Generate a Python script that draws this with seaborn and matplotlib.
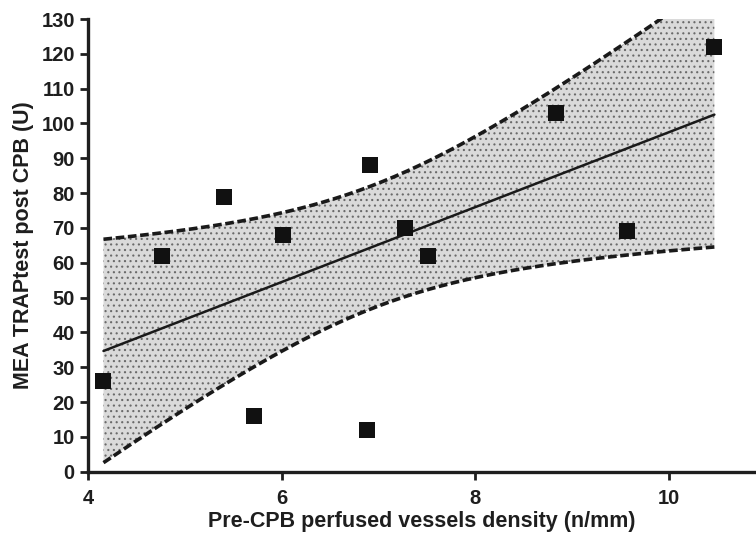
import numpy as np
import pandas as pd
import matplotlib
matplotlib.use("Agg")
import matplotlib.pyplot as plt
import seaborn as sns

# Data
density = [4.16, 4.76, 5.40, 5.71, 6.01, 6.88, 6.91, 7.27, 7.51, 8.83, 9.57, 10.47]
mea = [26, 62, 79, 16, 68, 12, 88, 70, 62, 103, 69, 122]
x_ticks = [4, 6, 8, 10]
y_ticks = list(range(0, 131, 10))
x_label = "Pre-CPB perfused vessels density (n/mm)"
y_label = "MEA TRAPtest post CPB (U)"

sns.set_theme(style="ticks")
plt.rcParams['font.family'] = ['Liberation Sans', 'DejaVu Sans']
plt.rcParams['font.weight'] = 'bold'
plt.rcParams['hatch.linewidth'] = 0.8
plt.rcParams['hatch.color'] = "#6a6a6a"

df = pd.DataFrame({"x": density, "y": mea})

fig = plt.figure(figsize=(7.56, 5.34), dpi=100)
ax = fig.add_axes([0.1164, 0.1167, 0.8836, 0.8477])

# Linear fit + analytic 95% confidence band
x = np.asarray(density, float)
y = np.asarray(mea, float)
n = len(x)
slope, intercept = np.polyfit(x, y, 1)
resid = y - (slope * x + intercept)
s = np.sqrt(np.sum(resid ** 2) / (n - 2))
sxx = np.sum((x - x.mean()) ** 2)
t_crit = 2.228  # t(0.975, df=10)
xs = np.linspace(x.min(), x.max(), 200)
ys = slope * xs + intercept
half = t_crit * s * np.sqrt(1.0 / n + (xs - x.mean()) ** 2 / sxx)
lo, hi = ys - half, ys + half

ax.fill_between(xs, lo, hi, facecolor="#dadada", edgecolor="#6a6a6a",
                hatch="...", linewidth=0, zorder=1)
ax.plot(xs, hi, color="#1a1a1a", lw=2.6, ls=(0, (2.4, 1.0)), zorder=2)
ax.plot(xs, lo, color="#1a1a1a", lw=2.6, ls=(0, (2.4, 1.0)), zorder=2)

sns.regplot(data=df, x="x", y="y", ax=ax, ci=None, marker="s",
            scatter_kws=dict(s=140, color="#111111", alpha=1, zorder=4, linewidths=0),
            line_kws=dict(color="#1a1a1a", lw=1.8, zorder=3))

ax.set_xlim(4, 10.9)
ax.set_ylim(0, 130)
ax.set_xticks(x_ticks)
ax.set_yticks(y_ticks)
ax.set_xlabel(x_label, fontsize=15.5, fontweight='bold', color="#1e1e1e", labelpad=2)
ax.set_ylabel(y_label, fontsize=15.5, fontweight='bold', color="#1e1e1e", labelpad=5)
for lab in ax.get_xticklabels() + ax.get_yticklabels():
    lab.set_fontweight('bold')
ax.tick_params(axis='both', labelsize=14.5, width=2, length=5.5, color="#1e1e1e",
               labelcolor="#1e1e1e", pad=4)
ax.tick_params(axis='x', pad=7)
for side in ["top", "right"]:
    ax.spines[side].set_visible(False)
for side in ["left", "bottom"]:
    ax.spines[side].set_linewidth(2.4)
    ax.spines[side].set_color("#1e1e1e")

fig.savefig("out.png", dpi=100)
